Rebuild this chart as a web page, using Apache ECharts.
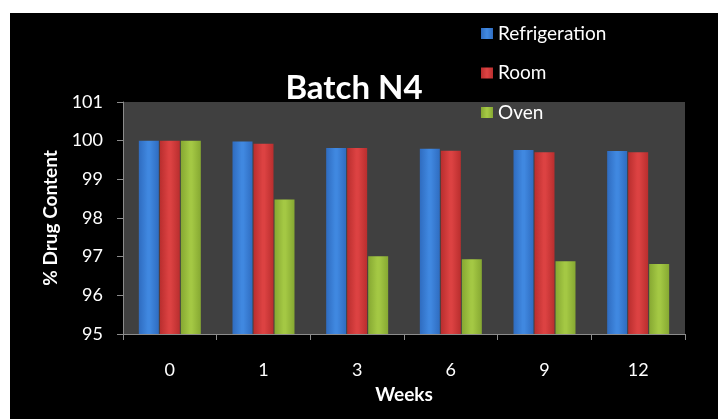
<!DOCTYPE html>
<html>
<head>
<meta charset="utf-8">
<script src="https://cdn.jsdelivr.net/npm/echarts@6/dist/echarts.min.js"></script>
<style>
html,body{margin:0;padding:0;background:#fff;}
#chart{position:absolute;left:0;top:0;width:718px;height:419px;}
</style>
</head>
<body>
<div id="chart"></div>
<script>
const weeks = ['0', '1', '3', '6', '9', '12'];
const refrigeration = [100, 99.98, 99.81, 99.79, 99.76, 99.73];
const room = [100, 99.92, 99.81, 99.74, 99.70, 99.70];
const oven = [100, 98.48, 97.01, 96.93, 96.88, 96.81];
const yTicks = { min: 95, max: 101, interval: 1 };

function grad(edge, mid) {
  return new echarts.graphic.LinearGradient(0, 0, 1, 0, [
    { offset: 0, color: edge },
    { offset: 0.45, color: mid },
    { offset: 0.55, color: mid },
    { offset: 1, color: edge }
  ]);
}
const FONT = 'Lato';
const chart = echarts.init(document.getElementById('chart'), null, { renderer: 'canvas' });
chart.setOption({
  backgroundColor: '#ffffff',
  animation: false,
  graphic: [{
    type: 'rect', left: 10, top: 13, z: -10,
    shape: { width: 708, height: 406 },
    style: { fill: '#000000' }
  }],
  title: {
    text: 'Batch N4',
    left: 349, top: 67, textAlign: 'center',
    textStyle: { color: '#ffffff', fontFamily: FONT, fontWeight: 'bold', fontSize: 33 }
  },
  legend: {
    orient: 'vertical',
    left: 476, top: 19,
    itemWidth: 12, itemHeight: 11, itemGap: 20.5,
    icon: 'rect',
    textStyle: { color: '#ffffff', fontFamily: FONT, fontSize: 19, padding: [0, 0, 0, 0] },
    data: ['Refrigeration', 'Room', 'Oven']
  },
  grid: { left: 123, right: 33, top: 102, bottom: 85, show: true, backgroundColor: '#404040', borderWidth: 0 },
  xAxis: {
    type: 'category', data: weeks,
    name: 'Weeks', nameLocation: 'middle', nameGap: 51,
    nameTextStyle: { color: '#ffffff', fontFamily: FONT, fontWeight: 'bold', fontSize: 19 },
    axisLine: { lineStyle: { color: '#8c8c8c', width: 1 } },
    axisTick: { show: true, length: 6, lineStyle: { color: '#8c8c8c' } },
    axisLabel: { color: '#ffffff', fontFamily: FONT, fontSize: 18, margin: 27 }
  },
  yAxis: {
    type: 'value', min: yTicks.min, max: yTicks.max, interval: yTicks.interval,
    name: '% Drug Content', nameLocation: 'middle', nameGap: 60, nameRotate: 90,
    nameTextStyle: { color: '#ffffff', fontFamily: FONT, fontWeight: 'bold', fontSize: 19 },
    axisLine: { show: true, lineStyle: { color: '#8c8c8c', width: 1 } },
    axisTick: { show: true, length: 6, lineStyle: { color: '#8c8c8c' } },
    splitLine: { show: false },
    axisLabel: { color: '#ffffff', fontFamily: FONT, fontSize: 18, margin: 20 }
  },
  series: [
    { name: 'Refrigeration', type: 'bar', data: refrigeration, barWidth: 20, barGap: '5%',
      itemStyle: { color: grad('#2f6cc0', '#4088e0') } },
    { name: 'Room', type: 'bar', data: room, barWidth: 20, barGap: '5%',
      itemStyle: { color: grad('#b92e2e', '#dc4242') } },
    { name: 'Oven', type: 'bar', data: oven, barWidth: 20, barGap: '5%',
      itemStyle: { color: grad('#86a832', '#a4c844') } }
  ]
});
</script>
</body>
</html>
